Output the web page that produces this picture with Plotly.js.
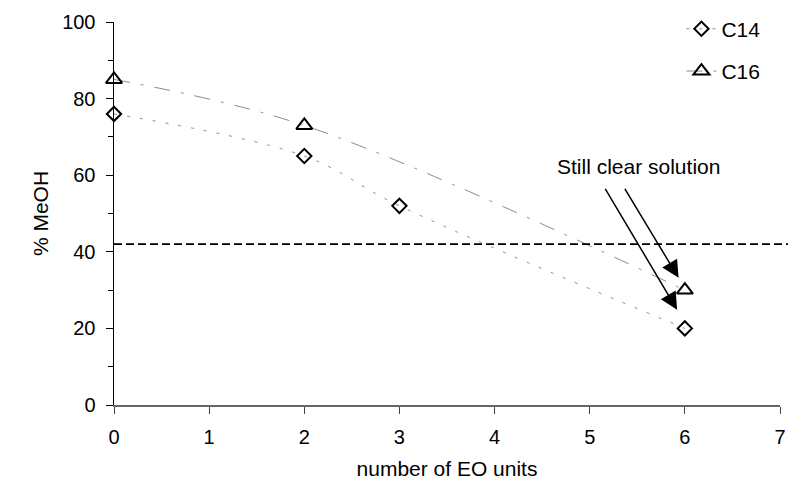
<!DOCTYPE html>
<html>
<head>
<meta charset="utf-8">
<script src="https://cdn.plot.ly/plotly-3.0.1.min.js"></script>
<style>html,body{margin:0;padding:0;background:#fff;}#chart{width:788px;height:485px;}</style>
</head>
<body>
<div id="chart"></div>
<script>
// Data
const eoC14 = [0, 2, 3, 6];
const meohC14 = [76, 65, 52, 20];
const eoC16 = [0, 2, 6];
const meohC16 = [85, 73, 30];
const thresholdMeOH = 42;
const xTickVals = [0, 1, 2, 3, 4, 5, 6, 7];
const yTickVals = [0, 20, 40, 60, 80, 100];
const seriesNames = ["C14", "C16"];
const noteText = "Still clear solution";

const FONT = "Liberation Sans, Arial, Helvetica, sans-serif";

const traces = [
  {
    x: eoC14, y: meohC14, name: seriesNames[0], type: "scatter", mode: "lines+markers",
    line: {shape: "spline", smoothing: 1, color: "#8c8c8c", width: 1, dash: "3px,10px"},
    marker: {symbol: "diamond-open", size: 11, color: "#000", line: {color: "#000", width: 2}},
    cliponaxis: false, legendgroup: "a"
  },
  {
    x: eoC16, y: meohC16, name: seriesNames[1], type: "scatter", mode: "lines+markers",
    line: {shape: "spline", smoothing: 1, color: "#8c8c8c", width: 1, dash: "16px,11px,3px,11px"},
    marker: {symbol: "triangle-up-open", size: 14, color: "#000", line: {color: "#000", width: 2}},
    cliponaxis: false, legendgroup: "b"
  }
];

const layout = {
  width: 788, height: 485,
  margin: {l: 114, r: 8, t: 22, b: 80},
  paper_bgcolor: "#fff", plot_bgcolor: "#fff",
  font: {family: FONT, size: 20, color: "#000"},
  showlegend: true,
  legend: {
    x: 0.852, xanchor: "left", y: 1.035, yanchor: "top",
    font: {family: FONT, size: 21, color: "#000"},
    traceorder: "grouped", tracegroupgap: 12,
    bgcolor: "rgba(0,0,0,0)", borderwidth: 0
  },
  xaxis: {
    range: [0, 7], tickvals: xTickVals, ticktext: xTickVals.map(String),
    ticks: "outside", ticklen: 7, tickwidth: 1, tickcolor: "#444",
    showline: true, linecolor: "#666", linewidth: 2,
    showgrid: false, zeroline: false, ticklabelstandoff: 6,
    tickfont: {family: FONT, size: 20, color: "#000"},
    title: {text: "number of EO units", font: {family: FONT, size: 21, color: "#000"}, standoff: 14}
  },
  yaxis: {
    range: [0, 100], tickvals: yTickVals, ticktext: yTickVals.map(String),
    ticks: "outside", ticklen: 7, tickwidth: 1, tickcolor: "#000",
    minor: {dtick: 10, tick0: 0, ticks: "outside", ticklen: 5, tickcolor: "#000", tickwidth: 1},
    showline: true, linecolor: "#000", linewidth: 1.5,
    showgrid: false, zeroline: false, ticklabelstandoff: 6,
    tickfont: {family: FONT, size: 20, color: "#000"},
    title: {text: "% MeOH", font: {family: FONT, size: 21, color: "#000"}, standoff: 8}
  },
  shapes: [
    {type: "line", xref: "paper", yref: "y", x0: 0, x1: 1.012, y0: thresholdMeOH, y1: thresholdMeOH,
     line: {color: "#000", width: 1.6, dash: "8px,4px"}, layer: "above"}
  ],
  annotations: [
    {x: 5.51, y: 62.4, xref: "x", yref: "y", text: noteText, showarrow: false,
     font: {family: FONT, size: 21, color: "#000"}},
    {x: 5.956, y: 32.3, xref: "x", yref: "y", ax: 5.36, ay: 56.8, axref: "x", ayref: "y",
     text: "", showarrow: true, arrowhead: 2, arrowsize: 2.3, arrowwidth: 1.5, arrowcolor: "#000", standoff: 4},
    {x: 5.94, y: 24.0, xref: "x", yref: "y", ax: 5.154, ay: 56.8, axref: "x", ayref: "y",
     text: "", showarrow: true, arrowhead: 2, arrowsize: 2.3, arrowwidth: 1.5, arrowcolor: "#000", standoff: 4}
  ]
};

Plotly.newPlot("chart", traces, layout, {displayModeBar: false, staticPlot: true});
</script>
</body>
</html>
